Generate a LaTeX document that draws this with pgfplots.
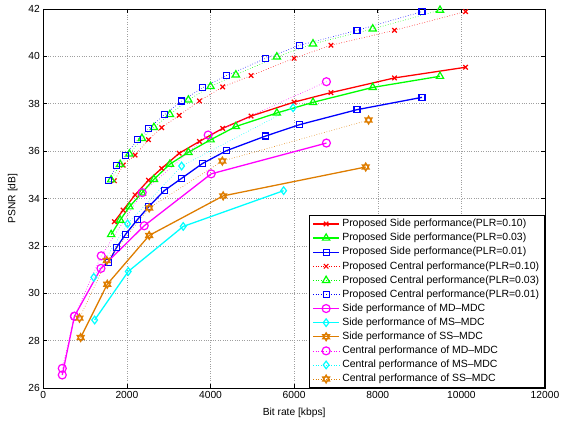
\documentclass[border=0pt]{standalone}
\usepackage{fontspec}
\setmainfont{Liberation Sans}
\usepackage{pgfplots}
\pgfplotsset{compat=1.18}

\definecolor{morange}{rgb}{0.87,0.49,0.0}
\definecolor{mcyan}{rgb}{0,1,1}
\definecolor{mmagenta}{rgb}{1,0,1}
\definecolor{mred}{rgb}{1,0,0}
\definecolor{mgreen}{rgb}{0,1,0}
\definecolor{mblue}{rgb}{0,0,1}

% MATLAB-like hexagram marker
\pgfdeclareplotmark{hexagram}{%
  \pgfpathmoveto{\pgfqpointpolar{90}{\pgfplotmarksize}}%
  \pgfpathlineto{\pgfqpointpolar{210}{\pgfplotmarksize}}%
  \pgfpathlineto{\pgfqpointpolar{330}{\pgfplotmarksize}}%
  \pgfpathclose
  \pgfpathmoveto{\pgfqpointpolar{270}{\pgfplotmarksize}}%
  \pgfpathlineto{\pgfqpointpolar{30}{\pgfplotmarksize}}%
  \pgfpathlineto{\pgfqpointpolar{150}{\pgfplotmarksize}}%
  \pgfpathclose
  \pgfusepathqstroke
}

\pgfplotsset{
  side/.style={solid, line width=1.3pt, mark options={solid, line width=1.2pt}},
  central/.style={dotted, line width=0.6pt, mark options={solid, line width=1.2pt}},
}

\begin{document}
\begin{tikzpicture}
\path[use as bounding box] (-43.3bp,-34bp) rectangle (525.7bp,388bp);
\begin{axis}[
  scale only axis,
  width=501.7bp, height=379bp,
  xmin=0, xmax=12000, ymin=26, ymax=42,
  xtick={0,2000,...,12000},
  ytick={26,28,...,42},
  scaled ticks=false,
  /pgf/number format/1000 sep={},
  /pgf/number format/assume math mode=true,
  tick label style={font=\fontsize{10.3}{12}\selectfont},
  label style={font=\fontsize{10.3}{12}\selectfont},
  xlabel={Bit rate [kbps]},
  ylabel={PSNR [dB]},
  xlabel style={yshift=-2bp},
  ylabel style={yshift=4bp},
  grid=major,
  major grid style={dotted, gray!75, line width=0.5pt},
  axis line style={line width=0.8pt},
  tick style={black, line width=0.6pt},
  major tick length=4bp,
  every axis plot post/.append style={legend image code/.code={%
    \draw[mark repeat=2,mark phase=2,##1] plot coordinates {(0bp,0bp) (13bp,0bp) (26bp,0bp)};}},
  legend cell align=left,
  legend style={at={(1,0)}, anchor=south east, draw=black, line width=0.8pt,
    font=\fontsize{10.5}{12}\selectfont,
    nodes={text height=7.5bp, text depth=2bp, inner ysep=2.3bp, inner xsep=2.5bp},
    inner xsep=3bp, inner ysep=1.5bp},
]
% Proposed side
\addplot[side, mred, mark=x, mark size=3.2bp] coordinates {
(1700,33.02) (1910,33.51) (2195,34.15) (2515,34.77) (2830,35.27) (3250,35.91) (3735,36.41)
(4290,36.96) (4970,37.48) (6000,38.07) (6880,38.47) (8400,39.09) (10100,39.54)};
\addlegendentry{Proposed Side performance(PLR=0.10)}
\addplot[side, mgreen, mark=triangle, mark size=4.2bp] coordinates {
(1623,32.48) (1838,33.09) (2060,33.65) (2359,34.24) (2646,34.81) (3028,35.45) (3470,35.95)
(4001,36.48) (4606,37.04) (5586,37.61) (6451,38.06) (7880,38.69) (9488,39.16)};
\addlegendentry{Proposed Side performance(PLR=0.03)}
\addplot[side, mblue, mark=square, mark size=3bp] coordinates {
(1563,31.30) (1754,31.94) (1969,32.49) (2256,33.12) (2519,33.65) (2892,34.33) (3315,34.86)
(3810,35.48) (4383,36.02) (5323,36.64) (6135,37.12) (7505,37.75) (9058,38.27)};
\addlegendentry{Proposed Side performance(PLR=0.01)}
% Proposed central
\addplot[central, mred, mark=x, mark size=3.2bp] coordinates {
(1700,34.75) (1910,35.41) (2195,35.83) (2515,36.48) (2830,36.99) (3250,37.51) (3735,38.12)
(4290,38.71) (4970,39.19) (6000,39.92) (6880,40.47) (8400,41.10) (10100,41.89)};
\addlegendentry{Proposed Central performance(PLR=0.10)}
\addplot[central, mgreen, mark=triangle, mark size=4.2bp] coordinates {
(1623,34.79) (1838,35.44) (2060,35.88) (2359,36.54) (2646,37.00) (3028,37.55) (3470,38.16)
(4001,38.73) (4606,39.22) (5586,39.98) (6451,40.53) (7880,41.16) (9488,41.95)};
\addlegendentry{Proposed Central performance(PLR=0.03)}
\addplot[central, mblue, mark=square, mark size=3bp] coordinates {
(1563,34.75) (1754,35.40) (1969,35.83) (2256,36.48) (2519,36.96) (2892,37.53) (3315,38.12)
(3810,38.68) (4383,39.19) (5323,39.92) (6135,40.47) (7505,41.10) (9058,41.89)};
\addlegendentry{Proposed Central performance(PLR=0.01)}
% Reference schemes, side
\addplot[side, mmagenta, mark=o, mark size=4bp] coordinates {
(454,26.55) (745,29.03) (1379,31.05) (2414,32.85) (4015,35.04) (6772,36.34)};
\addlegendentry{Side performance of MD--MDC}
\addplot[side, mcyan, mark=diamond, mark size=3.8bp] coordinates {
(1228,28.87) (2032,30.92) (3346,32.82) (5748,34.33)};
\addlegendentry{Side performance of MS--MDC}
\addplot[side, morange, mark=hexagram, mark size=4bp] coordinates {
(894,28.13) (1530,30.38) (2533,32.44) (4302,34.11) (7712,35.33)};
\addlegendentry{Side performance of SS--MDC}
% Reference schemes, central
\addplot[central, mmagenta, mark=o, mark size=4bp] coordinates {
(454,26.83) (745,29.03) (1386,31.58) (2366,34.25) (3944,36.68) (6772,38.93)};
\addlegendentry{Central performance of MD--MDC}
\addplot[central, mcyan, mark=diamond, mark size=3.8bp] coordinates {
(1207,30.67) (2016,32.93) (3308,35.37) (5975,37.83)};
\addlegendentry{Central performance of MS--MDC}
\addplot[central, morange, mark=hexagram, mark size=4bp] coordinates {
(865,28.95) (1518,31.38) (2533,33.60) (4283,35.58) (7780,37.31)};
\addlegendentry{Central performance of SS--MDC}
\end{axis}
\end{tikzpicture}
\end{document}
